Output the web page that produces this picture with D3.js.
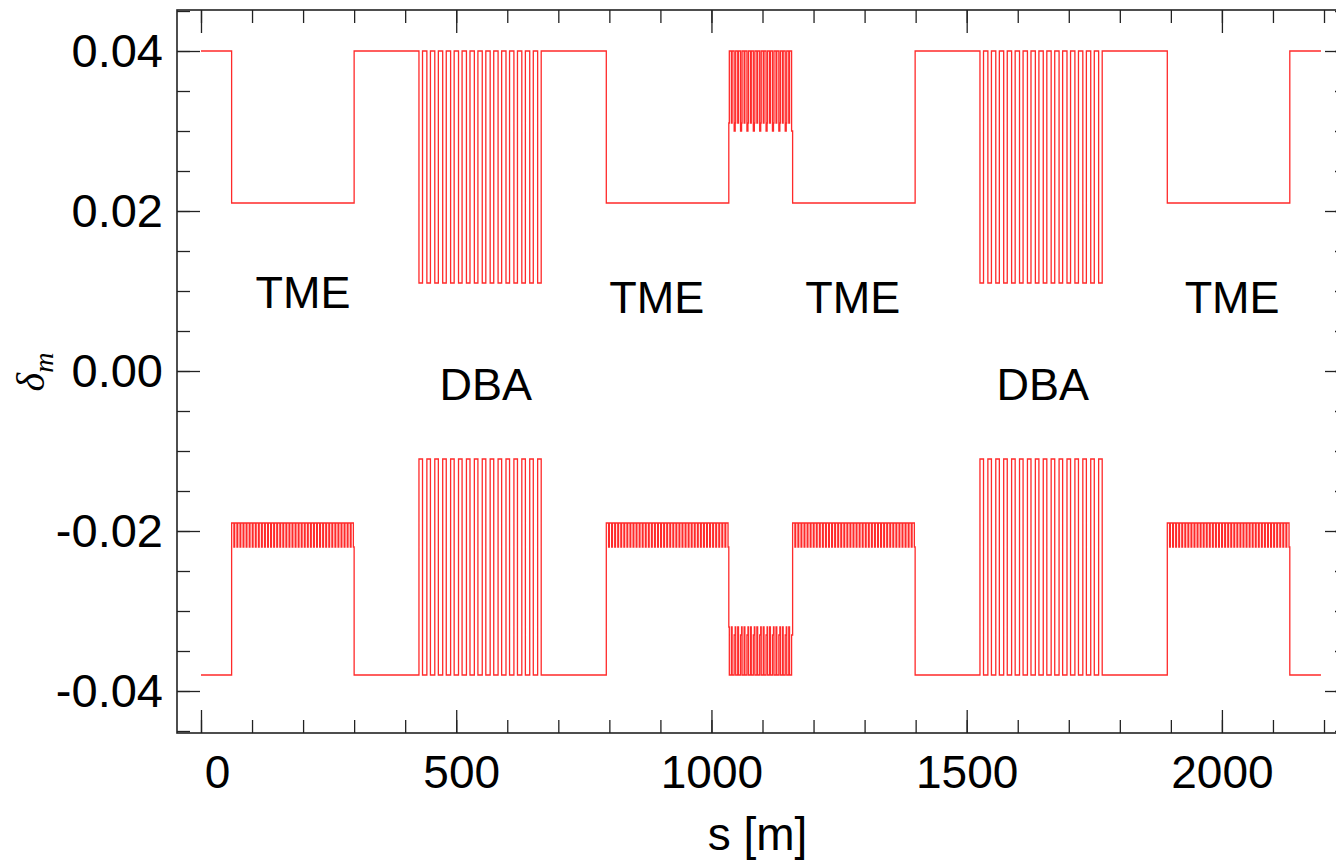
<!DOCTYPE html>
<html>
<head>
<meta charset="utf-8">
<script src="https://cdn.jsdelivr.net/npm/d3@7"></script>
<style>
  html, body { margin: 0; padding: 0; background: #fff; }
  svg { display: block; }
</style>
</head>
<body>
<svg id="chart" width="1336" height="863"></svg>
<script>
// Lattice layout along the ring: section type and length [m]
const sectionNames   = ["straight", "TME", "straight", "DBA", "straight", "TME", "mid", "TME", "straight", "DBA", "straight", "TME", "straight"];
const sectionLengths = [60, 240, 127, 248, 119, 240, 125, 240, 127, 248, 119, 240, 61];

// Momentum acceptance per section: number of cells and the steps of one cell
// (fraction of cell length, delta_m)
const upperSteps = {
  straight: { count: 1,  steps: [[1, 0.040]] },
  TME:      { count: 1,  steps: [[1, 0.021]] },
  DBA:      { count: 16, steps: [[0.45, 0.011], [0.55, 0.040]] },
  mid:      { count: 10, steps: [[0.08, 0.031], [0.32, 0.040], [0.12, 0.031], [0.32, 0.040], [0.16, 0.030]] }
};
const lowerSteps = {
  straight: { count: 1,  steps: [[1, -0.038]] },
  TME:      { count: 40, steps: [[0.75, -0.019], [0.25, -0.022]] },
  DBA:      { count: 16, steps: [[0.45, -0.011], [0.55, -0.038]] },
  mid:      { count: 10, steps: [[0.08, -0.032], [0.32, -0.038], [0.12, -0.032], [0.32, -0.038], [0.16, -0.033]] }
};

// Section annotations: text, s [m], delta_m of baseline
const annotText = ["TME", "DBA", "TME", "TME", "DBA", "TME"];
const annotS    = [200, 558, 893, 1277, 1649, 2020];
const annotD    = [0.0079, -0.0036, 0.0073, 0.0073, -0.0036, 0.0073];

// Axis ticks
const xMajor = [0, 500, 1000, 1500, 2000];
const xMajorLabels = ["0", "500", "1000", "1500", "2000"];
const xMinor = d3.range(0, 2201, 100);
const yMajor = [0.04, 0.02, 0.00, -0.02, -0.04];
const yMajorLabels = ["0.04", "0.02", "0.00", "-0.02", "-0.04"];
const yMinor = d3.range(-0.045, 0.0451, 0.005);

const svg = d3.select("#chart");
const plotL = 177, plotR = 1348, plotT = 10, plotB = 733;

const x = d3.scaleLinear().domain([-47, 2247]).range([plotL, plotR]);
const y = d3.scaleLinear().domain([-0.04525, 0.045125]).range([plotB, plotT]);

// Build a step trace along s from the section layout
function buildTrace(table) {
  const pts = [];
  let s = 0;
  sectionNames.forEach((name, i) => {
    const spec = table[name];
    const cellLen = sectionLengths[i] / spec.count;
    for (let c = 0; c < spec.count; c++) {
      for (const [frac, v] of spec.steps) {
        pts.push([s, v]);
        s += frac * cellLen;
      }
    }
  });
  pts.push([s, pts[pts.length - 1][1]]);
  return pts;
}

const line = d3.line()
  .x(d => x(d[0]))
  .y(d => y(d[1]))
  .curve(d3.curveStepAfter);

const traces = svg.append("g").attr("class", "traces");
[upperSteps, lowerSteps].forEach(tbl => {
  traces.append("path")
    .datum(buildTrace(tbl))
    .attr("d", line)
    .attr("fill", "none")
    .attr("stroke", "#ff2a2a")
    .attr("stroke-width", 1.3)
    .attr("stroke-linejoin", "miter");
});

// Axes
const axisFont = "'Liberation Sans', Arial, sans-serif";
function styleAxis(g) {
  g.select(".domain").remove();
  g.selectAll(".tick line").attr("stroke", "#222").attr("stroke-width", 1.3);
}

const fmtX = v => xMajorLabels[xMajor.indexOf(v)];
const fmtY = v => yMajorLabels[yMajor.findIndex(t => Math.abs(t - v) < 1e-9)];

// bottom
svg.append("g").attr("transform", `translate(0,${plotB})`)
  .call(d3.axisBottom(x).tickValues(xMinor).tickSizeInner(-13).tickSizeOuter(0).tickFormat(""))
  .call(styleAxis);
const bx = svg.append("g").attr("transform", `translate(0,${plotB})`)
  .call(d3.axisBottom(x).tickValues(xMajor).tickSizeInner(-23).tickSizeOuter(0).tickPadding(22).tickFormat(fmtX))
  .call(styleAxis);
bx.selectAll("text").attr("font-family", axisFont).attr("font-size", 46).attr("fill", "#000")
  .attr("dx", d => d === 0 ? 16 : (d === 500 ? 5 : 0));

// top
svg.append("g").attr("transform", `translate(0,${plotT})`)
  .call(d3.axisTop(x).tickValues(xMinor).tickSizeInner(-13).tickSizeOuter(0).tickFormat(""))
  .call(styleAxis);
svg.append("g").attr("transform", `translate(0,${plotT})`)
  .call(d3.axisTop(x).tickValues(xMajor).tickSizeInner(-23).tickSizeOuter(0).tickFormat(""))
  .call(styleAxis);

// left
svg.append("g").attr("transform", `translate(${plotL},0)`)
  .call(d3.axisLeft(y).tickValues(yMinor).tickSizeInner(-13).tickSizeOuter(0).tickFormat(""))
  .call(styleAxis);
const ly = svg.append("g").attr("transform", `translate(${plotL},0)`)
  .call(d3.axisLeft(y).tickValues(yMajor).tickSizeInner(-23).tickSizeOuter(0).tickPadding(14).tickFormat(fmtY))
  .call(styleAxis);
ly.selectAll("text").attr("font-family", axisFont).attr("font-size", 47).attr("fill", "#000");

// right
svg.append("g").attr("transform", `translate(${plotR},0)`)
  .call(d3.axisRight(y).tickValues(yMinor).tickSizeInner(-13).tickSizeOuter(0).tickFormat(""))
  .call(styleAxis);
svg.append("g").attr("transform", `translate(${plotR},0)`)
  .call(d3.axisRight(y).tickValues(yMajor).tickSizeInner(-23).tickSizeOuter(0).tickFormat(""))
  .call(styleAxis);

// frame
svg.append("rect")
  .attr("x", plotL).attr("y", plotT)
  .attr("width", plotR - plotL).attr("height", plotB - plotT)
  .attr("fill", "none").attr("stroke", "#222").attr("stroke-width", 1.6);

// section annotations
svg.append("g").selectAll("text")
  .data(annotText.map((t, i) => ({ t, s: annotS[i], d: annotD[i] })))
  .join("text")
  .attr("x", d => x(d.s))
  .attr("y", d => y(d.d))
  .attr("text-anchor", "middle")
  .attr("font-family", axisFont)
  .attr("font-size", 45)
  .attr("fill", "#000")
  .text(d => d.t);

// axis titles
svg.append("text")
  .attr("x", (plotL + 1336) / 2 + 1)
  .attr("y", 850)
  .attr("text-anchor", "middle")
  .attr("font-family", axisFont)
  .attr("font-size", 46)
  .attr("fill", "#000")
  .text("s [m]");

const yt = svg.append("text")
  .attr("transform", "translate(44,372) rotate(-90)")
  .attr("text-anchor", "middle")
  .attr("font-family", "'Liberation Serif', 'Times New Roman', serif")
  .attr("font-style", "italic")
  .attr("fill", "#000");
yt.append("tspan").attr("font-size", 40).text("δ");
yt.append("tspan").attr("font-size", 28).attr("dy", 9).text("m");
</script>
</body>
</html>
